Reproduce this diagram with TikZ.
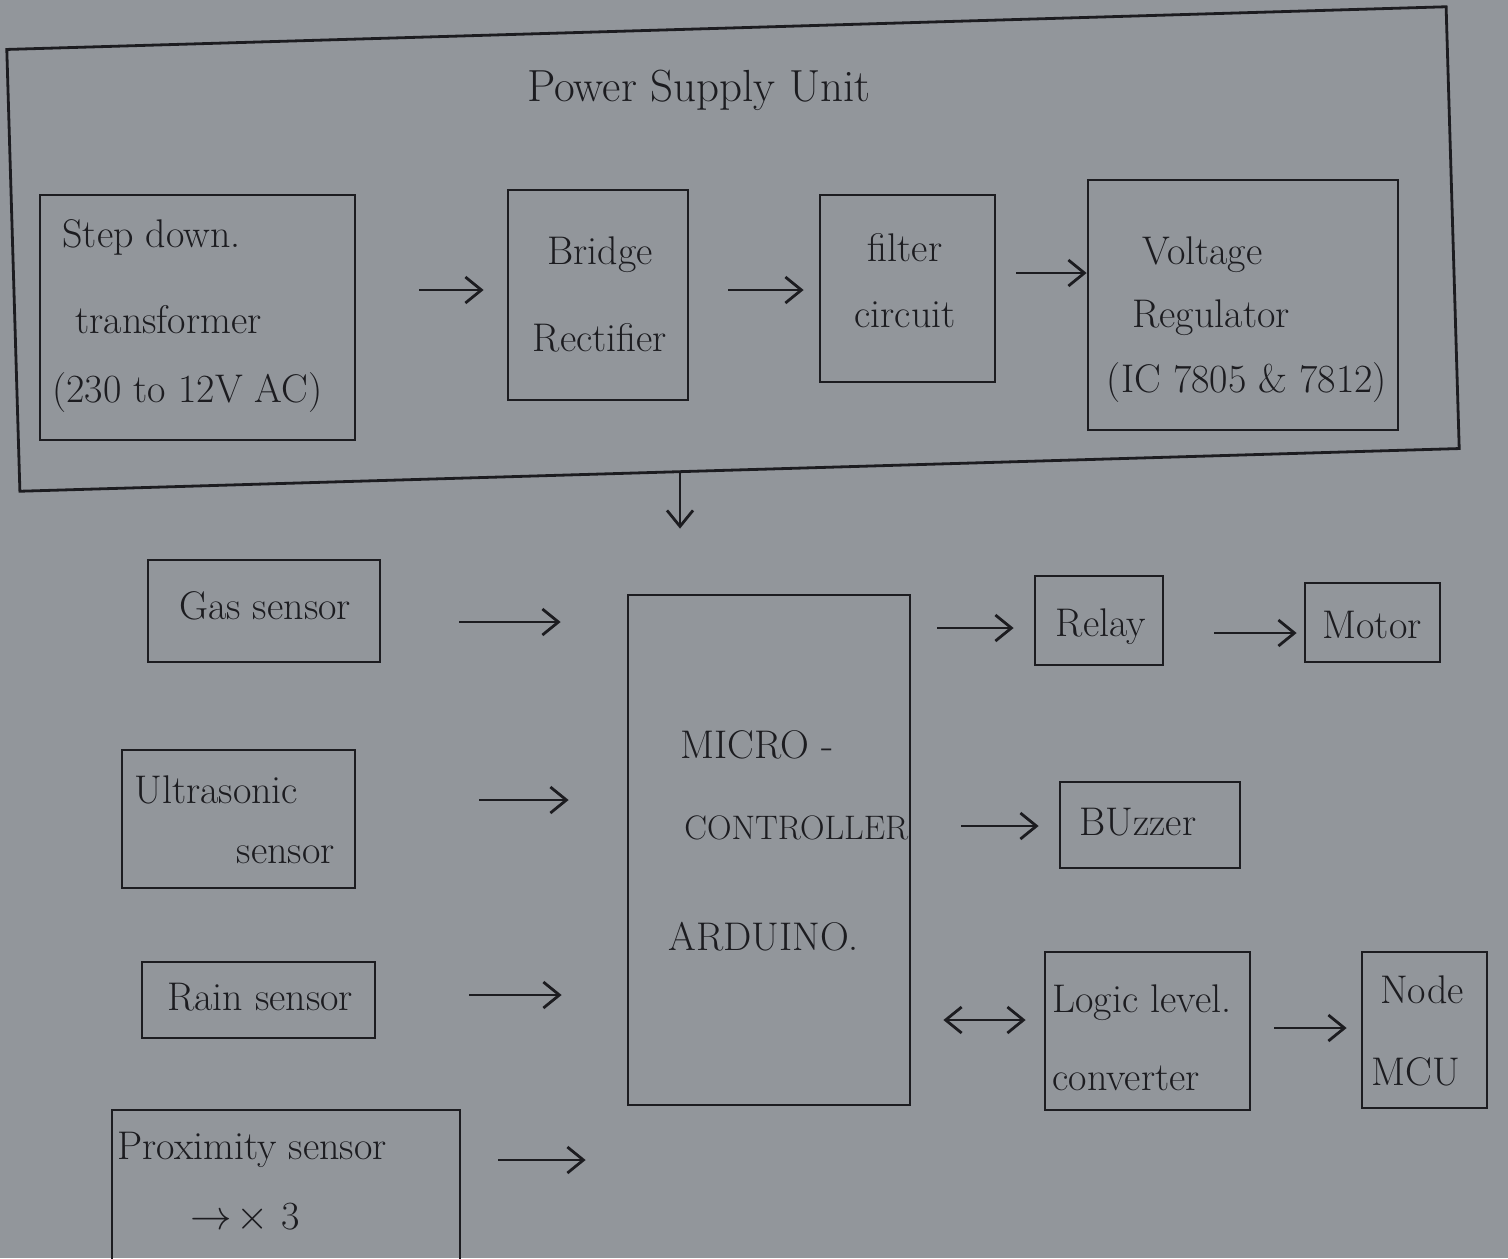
\documentclass[tikz,border=0pt]{standalone}
\usetikzlibrary{arrows.meta,fit,calc}
\definecolor{paper}{RGB}{146,150,155}
\definecolor{ink}{RGB}{28,28,32}
\begin{document}
\begin{tikzpicture}[x=0.5pt,y=-0.5pt,
  blk/.style={draw=ink,line width=1.4pt,inner sep=0pt},
  txt/.style={text=ink,font=\fontsize{20}{24}\selectfont,inner sep=0pt},
  arr/.style={draw=ink,line width=1.4pt,-{Straight Barb[length=8pt,width=13pt]}},
  darr/.style={draw=ink,line width=1.4pt,{Straight Barb[length=8pt,width=13pt]}-{Straight Barb[length=8pt,width=13pt]}}]
\fill[paper] (0,0) rectangle (1508,1258);
\useasboundingbox (0,0) rectangle (1508,1258);

% power supply container
\node[blk,rotate=1.7,minimum width=720pt,minimum height=221pt] (psu) at (733,249) {};
\node[txt,font=\fontsize{22.5}{27}\selectfont] (psut) at (699,90) {Power Supply Unit};

% power chain
\node[blk,fit={(40,195) (355,440)}] (tr) {};
\node[txt,anchor=west] (tr1) at (62,237) {Step down.};
\node[txt,anchor=west] (tr2) at (75,320) {transformer};
\node[txt,anchor=west] (tr3) at (52,393) {(230 to 12V AC)};

\node[blk,fit={(508,190) (688,400)}] (rc) {};
\node[txt] (rc1) at (600,255) {Bridge};
\node[txt] (rc2) at (600,338) {Rectifier};

\node[blk,fit={(820,195) (995,382)}] (fc) {};
\node[txt] (fc1) at (905,248) {filter};
\node[txt] (fc2) at (905,315) {circuit};

\node[blk,fit={(1088,180) (1398,430)}] (vr) {};
\node[txt,anchor=west] (vr1) at (1142,255) {Voltage};
\node[txt,anchor=west] (vr2) at (1132,318) {Regulator};
\node[txt] (vr3) at (1247,383) {(IC 7805 \& 7812)};

% sensors
\node[blk,fit={(148,560) (380,662)}] (gas) {};
\node[txt] (gast) at (265,606) {Gas sensor};

\node[blk,fit={(122,750) (355,888)}] (us) {};
\node[txt,anchor=west] (us1) at (134,790) {Ultrasonic};
\node[txt,anchor=east] (us2) at (335,855) {sensor};

\node[blk,fit={(142,962) (375,1038)}] (rain) {};
\node[txt] (raint) at (260,997) {Rain sensor};

\node[blk,fit={(112,1110) (460,1268)}] (prox) {};
\node[txt,anchor=west] (prox1) at (117,1150) {Proximity sensor};
\node[txt] (prox2) at (245,1218) {$\rightarrow\!\times$ 3};

% microcontroller
\node[blk,fit={(628,595) (910,1105)}] (mc) {};
\node[txt,anchor=west] (mc1) at (680,745) {MICRO -};
\node[txt,anchor=west,font=\fontsize{17}{20}\selectfont] (mc2) at (684,828) {CONTROLLER};
\node[txt,anchor=west] (mc3) at (668,937) {ARDUINO.};

% outputs
\node[blk,fit={(1035,576) (1163,665)}] (relay) {};
\node[txt] (relayt) at (1101,627) {Relay};
\node[blk,fit={(1305,583) (1440,662)}] (motor) {};
\node[txt] (motort) at (1372,625) {Motor};
\node[blk,fit={(1060,782) (1240,868)}] (buzz) {};
\node[txt] (buzzt) at (1138,822) {BUzzer};
\node[blk,fit={(1045,952) (1250,1110)}] (llc) {};
\node[txt,anchor=west] (llc1) at (1052,1003) {Logic level.};
\node[txt,anchor=west] (llc2) at (1052,1078) {converter};
\node[blk,fit={(1362,952) (1487,1108)}] (nmcu) {};
\node[txt] (nmcu1) at (1422,990) {Node};
\node[txt] (nmcu2) at (1416,1072) {MCU};

% connectors
\draw[arr,shorten <=31.5pt,shorten >=11.5pt] (tr.east |- 0,290) -- (rc.west |- 0,290);
\draw[arr,shorten <=19.5pt,shorten >=7.5pt] (rc.east |- 0,290) -- (fc.west |- 0,290);
\draw[arr,shorten <=10pt] (fc.east |- 0,273) -- (vr.west |- 0,273);
\draw[arr,shorten >=32.5pt] (psu.south -| 680,0) -- (mc.north -| 680,0);
\draw[arr,shorten <=39pt,shorten >=33pt] (gas.east |- 0,622) -- (mc.west |- 0,622);
\draw[arr,shorten <=61.5pt,shorten >=29pt] (us.east |- 0,800) -- (mc.west |- 0,800);
\draw[arr,shorten <=46.5pt,shorten >=32.5pt] (rain.east |- 0,995) -- (mc.west |- 0,995);
\draw[arr,shorten <=18.5pt,shorten >=20.5pt] (prox.east |- 0,1160) -- (mc.west |- 0,1160);
\draw[arr,shorten <=13pt,shorten >=10pt] (mc.east |- 0,628) -- (relay.west |- 0,628);
\draw[arr,shorten <=25pt,shorten >=3.5pt] (relay.east |- 0,633) -- (motor.west |- 0,633);
\draw[arr,shorten <=25pt,shorten >=10pt] (mc.east |- 0,826) -- (buzz.west |- 0,826);
\draw[darr,shorten <=16pt,shorten >=9pt] (mc.east |- 0,1020) -- (llc.west |- 0,1020);
\draw[arr,shorten <=11.5pt,shorten >=7pt] (llc.east |- 0,1028) -- (nmcu.west |- 0,1028);
\end{tikzpicture}
\end{document}
